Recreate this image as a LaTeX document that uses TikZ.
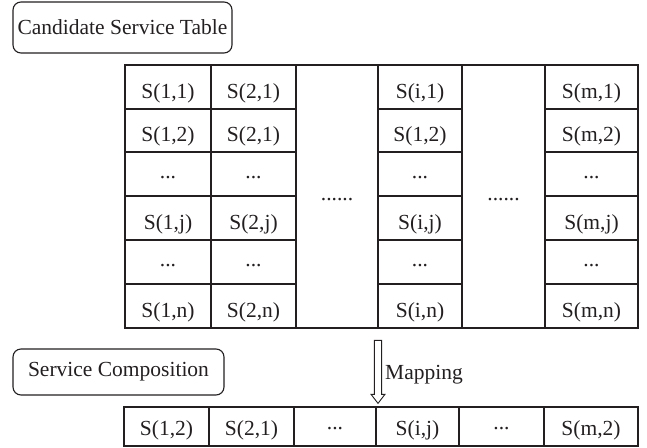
\documentclass[tikz,border=0pt]{standalone}
\usepackage{fontspec}
\setmainfont{Liberation Serif}
\usetikzlibrary{shapes.arrows}
\definecolor{ink}{HTML}{231F20}
% one table cell: name, x0, y0, x1, y1, text, extra style
\newcommand\tcell[7]{\node[cell,#7,minimum width={#4-#2},minimum height={#5-#3}] (#1) at ({(#2+#4)/2},{(#3+#5)/2}) {#6};}
\begin{document}
\begin{tikzpicture}[x=1pt,y=-1pt,
  font=\fontsize{21.5}{25}\selectfont,
  cell/.style={draw=ink,line width=2.8pt,text=ink,inner sep=0pt},
  stxt/.style={text height=22pt,text depth=0pt},
  dtxt/.style={text height=8pt,text depth=0pt},
  bstxt/.style={text height=18pt,text depth=0pt},
  bdtxt/.style={text height=5pt,text depth=0pt},
  tag/.style={draw=ink,line width=1.1pt,rounded corners=8pt,text=ink,inner sep=0pt}]
\useasboundingbox (0,0) rectangle (647,447);

% title boxes
\node[tag,minimum width=219,minimum height=51] (cst) at (122.5,27.5) {Candidate Service Table};
\node[tag,minimum width=211,minimum height=46] (sc) at (118.5,372) {Service Composition};

% candidate table, column 1
\tcell{a1}{125}{65}{211}{109}{S(1,1)}{stxt}
\tcell{a2}{125}{109}{211}{152}{S(1,2)}{stxt}
\tcell{a3}{125}{152}{211}{196}{...}{dtxt}
\tcell{a4}{125}{196}{211}{240}{S(1,j)}{stxt}
\tcell{a5}{125}{240}{211}{284}{...}{dtxt}
\tcell{a6}{125}{284}{211}{328}{S(1,n)}{stxt}
% column 2
\tcell{b1}{211}{65}{296}{109}{S(2,1)}{stxt}
\tcell{b2}{211}{109}{296}{152}{S(2,1)}{stxt}
\tcell{b3}{211}{152}{296}{196}{...}{dtxt}
\tcell{b4}{211}{196}{296}{240}{S(2,j)}{stxt}
\tcell{b5}{211}{240}{296}{284}{...}{dtxt}
\tcell{b6}{211}{284}{296}{328}{S(2,n)}{stxt}
% gap columns
\tcell{g1}{296}{65}{378}{328}{......}{dtxt}
\tcell{g2}{462}{65}{545}{328}{......}{dtxt}
% column i
\tcell{i1}{378}{65}{462}{109}{S(i,1)}{stxt}
\tcell{i2}{378}{109}{462}{152}{S(1,2)}{stxt}
\tcell{i3}{378}{152}{462}{196}{...}{dtxt}
\tcell{i4}{378}{196}{462}{240}{S(i,j)}{stxt}
\tcell{i5}{378}{240}{462}{284}{...}{dtxt}
\tcell{i6}{378}{284}{462}{328}{S(i,n)}{stxt}
% column m
\tcell{m1}{545}{65}{638}{109}{S(m,1)}{stxt}
\tcell{m2}{545}{109}{638}{152}{S(m,2)}{stxt}
\tcell{m3}{545}{152}{638}{196}{...}{dtxt}
\tcell{m4}{545}{196}{638}{240}{S(m,j)}{stxt}
\tcell{m5}{545}{240}{638}{284}{...}{dtxt}
\tcell{m6}{545}{284}{638}{328}{S(m,n)}{stxt}

% composition row
\tcell{c1}{124}{407}{209}{446}{S(1,2)}{bstxt}
\tcell{c2}{209}{407}{294}{446}{S(2,1)}{bstxt}
\tcell{c3}{294}{407}{376}{446}{...}{bdtxt}
\tcell{c4}{376}{407}{459}{446}{S(i,j)}{bstxt}
\tcell{c5}{459}{407}{544}{446}{...}{bdtxt}
\tcell{c6}{544}{407}{638}{446}{S(m,2)}{bstxt}

% mapping arrow
\node[single arrow,draw=ink,fill=white,line width=0.9pt,inner sep=3.2pt,
  minimum height=63,minimum width=13,single arrow head extend=3.3pt,
  single arrow tip angle=75,shape border rotate=270] (map) at (378,369.5) {};
\node[anchor=base west,text=ink,inner sep=0pt] (maplbl) at (385,379) {Mapping};
\end{tikzpicture}
\end{document}
